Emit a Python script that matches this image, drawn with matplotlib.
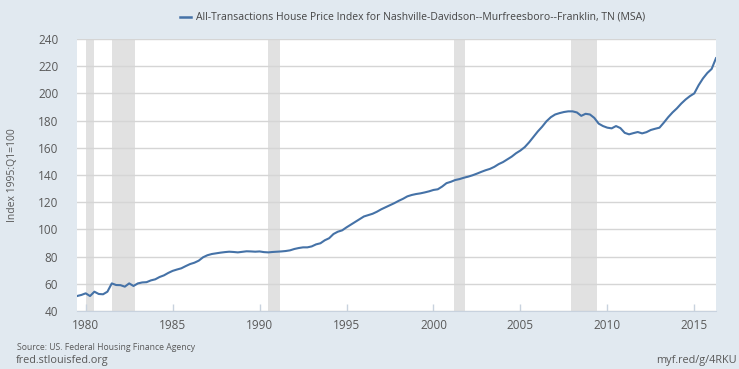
import matplotlib
matplotlib.use("Agg")
import matplotlib.pyplot as plt

# quarterly index values, 1979Q3 .. 2016Q2
start_year = 1979
start_quarter = 3
index_values = [
    51.0, 51.8,
    53.0, 51.0, 54.2, 52.5,
    52.3, 54.2, 60.3, 59.1,
    59.0, 57.9, 60.3, 58.4,
    60.3, 61.0, 61.2, 62.5,
    63.3, 65.0, 66.2, 68.0,
    69.5, 70.5, 71.4, 73.0,
    74.5, 75.5, 77.0, 79.5,
    81.0, 81.9, 82.4, 82.9,
    83.3, 83.6, 83.4, 83.1,
    83.5, 83.9, 83.8, 83.6,
    83.8, 83.3, 83.1, 83.4,
    83.6, 83.8, 84.1, 84.6,
    85.6, 86.3, 86.8, 86.8,
    87.5, 89.0, 89.8, 92.0,
    93.5, 96.6, 98.3, 99.3,
    101.5, 103.5, 105.5, 107.5,
    109.5, 110.5, 111.5, 113.0,
    114.8, 116.3, 117.8, 119.3,
    121.0, 122.5, 124.3, 125.3,
    126.0, 126.5, 127.2, 128.0,
    129.0, 129.5, 131.5, 134.0,
    135.0, 136.3, 137.0, 138.0,
    138.8, 139.8, 141.0, 142.3,
    143.5, 144.5, 146.0, 148.0,
    149.5, 151.5, 153.5, 156.0,
    158.0, 160.5, 164.0, 168.0,
    172.0, 175.5, 179.5, 182.5,
    184.5, 185.5, 186.3, 186.8,
    186.8, 186.0, 183.5, 185.0,
    184.5, 182.0, 177.8, 176.0,
    174.8, 174.3, 176.0, 174.5,
    171.0, 169.9, 170.8, 171.6,
    170.6, 171.5, 173.1, 174.0,
    174.8, 178.5, 182.5, 186.0,
    189.0, 192.5, 195.5, 198.0,
    200.0, 206.0, 211.0, 215.0,
    218.0, 225.9,
]

# recessions (start, end) as decimal years
recessions = [
    (1980.0, 1980.5),
    (1981.5, 1982.83),
    (1990.5, 1991.17),
    (2001.17, 2001.83),
    (2007.92, 2009.42),
]

x_ticks = [1980, 1985, 1990, 1995, 2000, 2005, 2010, 2015]
y_ticks = [40, 60, 80, 100, 120, 140, 160, 180, 200, 220, 240]

title = "All-Transactions House Price Index for Nashville-Davidson--Murfreesboro--Franklin, TN (MSA)"

dates = [start_year + (start_quarter - 1 + i) / 4 for i in range(len(index_values))]

bg = "#e1e9f0"
txt = "#595959"
plt.rcParams["font.family"] = ["Open Sans", "DejaVu Sans"]

fig = plt.figure(figsize=(7.39, 3.69), dpi=100, facecolor=bg)
ax = fig.add_axes([77 / 739, 1 - 311 / 369, 639 / 739, 272 / 369])
ax.set_facecolor("white")

for a, b in recessions:
    ax.axvspan(a, b, color="#e1e1e1", lw=0, zorder=1)

ax.plot(dates, index_values, color="#4572a7", lw=1.5, zorder=3)

ax.set_xlim(dates[0], dates[-1])
ax.set_ylim(40, 240)
ax.set_yticks(y_ticks)
ax.set_xticks(x_ticks)
ax.grid(axis="y", color="#d5d5d5", lw=1, zorder=2)
for s in ["top", "left", "right"]:
    ax.spines[s].set_visible(False)
ax.spines["bottom"].set_color("#c8d2de")
ax.tick_params(axis="y", length=0, labelsize=8.5, colors=txt, pad=13.5)
ax.tick_params(axis="x", length=5, width=1, color="#c8d2de", direction="in",
               labelsize=8.5, labelcolor=txt, pad=6)

ax.set_ylabel("Index 1995:Q1=100", fontsize=7.5, color=txt)
ax.yaxis.set_label_coords(-59 / 639, 0.5)

# legend-style title
fig.lines.append(plt.Line2D([180 / 739, 191 / 739], [1 - 17 / 369, 1 - 17 / 369],
                            color="#4572a7", lw=1.8, transform=fig.transFigure))
fig.text(196 / 739, 1 - 17 / 369, title, fontsize=7.5, color="#444444",
         ha="left", va="center")

fig.text(17 / 739, 1 - 347 / 369, "Source: US. Federal Housing Finance Agency",
         fontsize=6.2, color=txt, ha="left", va="center")
fig.text(16 / 739, 1 - 360 / 369, "fred.stlouisfed.org", fontsize=7.8,
         color=txt, ha="left", va="center")
fig.text(737 / 739, 1 - 360 / 369, "myf.red/g/4RKU", fontsize=7.8,
         color=txt, ha="right", va="center")

fig.savefig("out.png", dpi=100, facecolor=bg)
